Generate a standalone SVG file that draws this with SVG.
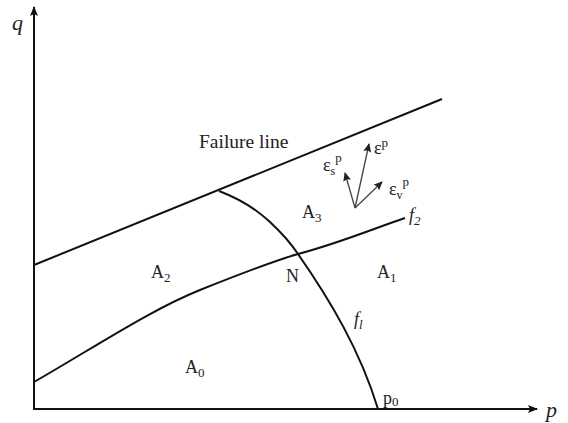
<svg xmlns="http://www.w3.org/2000/svg" width="568" height="423" viewBox="0 0 568 423">
<defs>
<marker id="ah" markerWidth="10" markerHeight="8" refX="9" refY="4" orient="auto" markerUnits="userSpaceOnUse"><path d="M0,0 L10,4 L0,8 L2,4 Z" fill="#111"/></marker>
<marker id="sa" markerWidth="9" markerHeight="8" refX="8" refY="4" orient="auto" markerUnits="userSpaceOnUse"><path d="M0,0 L9,4 L0,8 L1.5,4 Z" fill="#222"/></marker>
</defs>
<style>
.ln{fill:none;stroke:#111;stroke-width:2}
.ar{fill:none;stroke:#444;stroke-width:1.3}
text{font-family:"Liberation Serif","Times New Roman",serif;fill:#222;font-size:18px}
.it{font-style:italic}
.ax{font-size:22px}
.sb{font-size:13px}
</style>
<rect width="568" height="423" fill="#fff"/>
<g id="connectors">
<line class="ln" x1="34" y1="409" x2="34" y2="7" marker-end="url(#ah)"/>
<line class="ln" x1="33" y1="409" x2="537" y2="409" marker-end="url(#ah)"/>
<line class="ln" x1="34" y1="265" x2="442" y2="99"/>
<path class="ln" d="M34,382 C90,350 150,310 200,290 C240,274 270,262 298,254 C340,243 375,228 405,218"/>
<path class="ln" d="M219,191 C240,199 255,208 270,222 C285,236 292,245 298,254 C330,300 360,350 378,409"/>
<line class="ar" x1="355" y1="208" x2="345" y2="173" marker-end="url(#sa)"/>
<line class="ar" x1="355" y1="208" x2="369" y2="144" marker-end="url(#sa)"/>
<line class="ar" x1="355" y1="208" x2="382" y2="182" marker-end="url(#sa)"/>
</g>
<g id="labels">
<text class="ax it" x="12" y="30">q</text>
<text class="ax it" x="546" y="417">p</text>
<text x="199" y="148" style="font-size:19.5px">Failure line</text>
<text x="302" y="218">A<tspan class="sb" dy="4">3</tspan></text>
<text x="151" y="278">A<tspan class="sb" dy="4">2</tspan></text>
<text x="377" y="278">A<tspan class="sb" dy="4">1</tspan></text>
<text x="185" y="373">A<tspan class="sb" dy="4">0</tspan></text>
<text x="286" y="282">N</text>
<text class="it" x="409" y="221">f<tspan class="sb" dy="4">2</tspan></text>
<text class="it" x="354" y="325">f<tspan class="sb" dy="4">l</tspan></text>
<text x="383" y="404">p<tspan class="sb" dy="2">0</tspan></text>
<text x="323" y="171">ε<tspan style="font-size:12px" dy="4">s</tspan><tspan class="sb" dy="-13">p</tspan></text>
<text x="374" y="154">ε<tspan class="sb" dy="-7">p</tspan></text>
<text x="389" y="195">ε<tspan style="font-size:12px" dy="4">v</tspan><tspan class="sb" dy="-13">p</tspan></text>
</g>
</svg>
